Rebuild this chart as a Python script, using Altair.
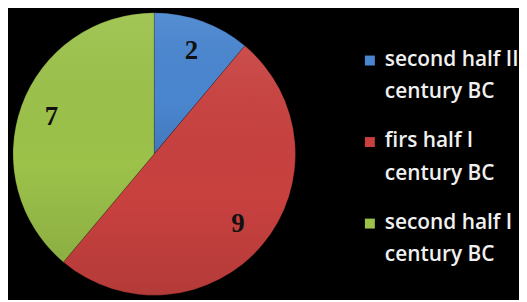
import altair as alt
import pandas as pd

categories = ["second half II century BC", "firs half I century BC", "second half I century BC"]
legend_lines = [["second half II", "century BC"], ["firs half I", "century BC"], ["second half I", "century BC"]]
values = [2, 9, 7]
colors = ["#4a86d0", "#c8413f", "#9cc24a"]

df = pd.DataFrame({"category": categories, "value": values, "order": [0, 1, 2]})
leg = pd.DataFrame({"category": categories, "row": [0, 1, 2], "label": legend_lines})

color_scale = alt.Scale(domain=categories, range=colors)

base = alt.Chart(df).encode(
    theta=alt.Theta("value:Q", stack=True),
    order=alt.Order("order:Q"),
)
arcs = base.mark_arc(outerRadius=142, stroke="#00000040", strokeWidth=0.8).encode(
    color=alt.Color("category:N", scale=color_scale, legend=None)
)
shade = base.mark_arc(outerRadius=142).encode(
    fill=alt.value({
        "gradient": "linear", "x1": 0.5, "y1": 0, "x2": 0.5, "y2": 1,
        "stops": [
            {"offset": 0, "color": "rgba(255,255,255,0.07)"},
            {"offset": 0.6, "color": "rgba(0,0,0,0.0)"},
            {"offset": 1, "color": "rgba(0,0,0,0.10)"},
        ],
    })
)
labels = base.mark_text(radius=110, font="Liberation Serif", fontWeight="bold", fontSize=27, color="#111111").encode(
    text=alt.Text("value:Q")
)
pie = alt.layer(arcs, shade, labels).properties(width=294, height=292)

lbase = alt.Chart(leg).encode(
    y=alt.Y("row:Q", scale=alt.Scale(domain=[-0.634, 2.927], reverse=True), axis=None)
)
squares = lbase.mark_square(size=100, opacity=1).encode(
    x=alt.value(20),
    color=alt.Color("category:N", scale=color_scale, legend=None),
)
ltext = lbase.mark_text(align="left", baseline="top", dy=-12, font="Open Sans", fontSize=21,
                        fontWeight=600, lineHeight=33, color="#f0f0f0").encode(
    x=alt.value(35),
    text=alt.Text("label"),
)
legend = alt.layer(squares, ltext).properties(width=170, height=292)

chart = alt.hconcat(pie, legend, spacing=50).properties(
    background="#000000", padding=0
).configure_view(stroke=None)

chart.save("out.html", embed_options={"renderer": "svg", "actions": False})
